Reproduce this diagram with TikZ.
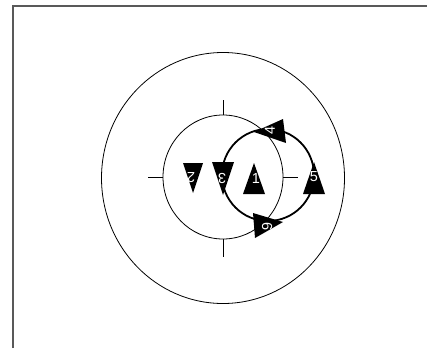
\documentclass[tikz,border=0pt]{standalone}
\usepackage{fontspec}
\setmainfont{Liberation Sans}
\usetikzlibrary{shapes.geometric}
\begin{document}
\begin{tikzpicture}[x=1pt,y=-1pt,
  thin circ/.style={draw, ellipse, line width=0.8pt, inner sep=0pt},
  thick circ/.style={draw, circle, line width=1.8pt, inner sep=0pt, minimum size=92pt},
  tick/.style={line width=0.8pt},
  tri/.style={fill=black},
  lab/.style={text=white, font=\fontsize{14.5}{14.5}\selectfont, inner sep=0pt}]
\useasboundingbox (0,0) rectangle (427,348);
% frame (left and top edges visible)
\draw[line width=1.4pt, black!65] (13,348) -- (13,6) -- (427,6);
% circles
\node[thin circ, minimum width=243pt, minimum height=251pt] (outer) at (223,178) {};
\node[thin circ, minimum width=120pt, minimum height=124pt] (inner) at (223,177) {};
% ticks
\draw[tick] (inner.north) -- ++(0,-15);
\draw[tick] (inner.south) -- ++(0,18);
\draw[tick] (inner.west) -- ++(-15,0);
\draw[tick] (inner.east) -- ++(15,0);
% thick circle
\node[thick circ] (orbit) at (268,175) {};
% triangles
\fill[tri] (254,163) -- (265,194) -- (243,194) -- cycle;   % 1
\fill[tri] (193,193) -- (203,163) -- (183,163) -- cycle;   % 2
\fill[tri] (223,195) -- (234,162) -- (212,162) -- cycle;   % 3
\fill[tri] (314,162) -- (325,194) -- (303,194) -- cycle;   % 5
\fill[tri] (254,132) -- (283,119) -- (286,143) -- cycle;   % 4
\fill[tri] (283,222) -- (253,213) -- (255,238) -- cycle;   % 6
% labels
\node[lab] (l1) at (256,179) {1};
\node[lab, rotate=180] (l2) at (191,178) {2};
\node[lab, rotate=180] (l3) at (222,178) {3};
\node[lab, rotate=90] (l4) at (270,130) {4};
\node[lab] (l5) at (314,177) {5};
\node[lab, rotate=-90] (l6) at (267,227) {6};
\end{tikzpicture}
\end{document}
